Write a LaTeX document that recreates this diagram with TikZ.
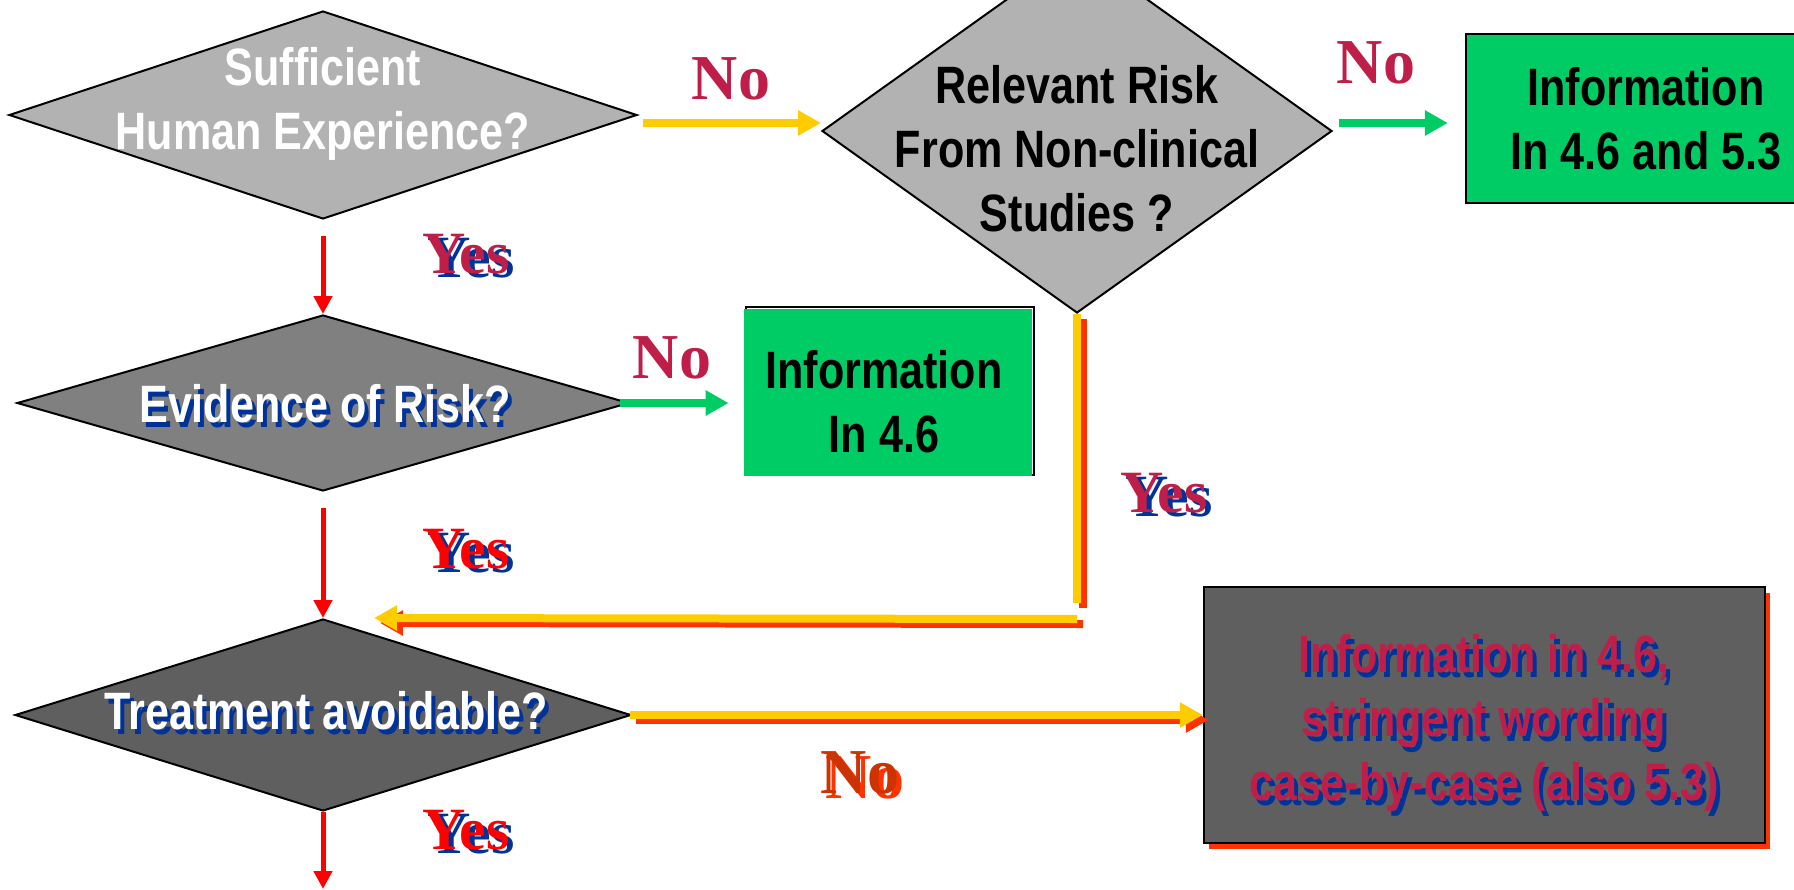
\documentclass[tikz,border=0pt]{standalone}
\usepackage{fontspec}
\usetikzlibrary{shapes.geometric,arrows.meta,calc}
\newfontfamily\sansN[FakeStretch=0.82]{Liberation Sans}
\newfontfamily\serifB{Liberation Serif}
\definecolor{lgray}{RGB}{178,178,178}
\definecolor{mgray}{RGB}{128,128,128}
\definecolor{dgray}{RGB}{95,95,95}
\definecolor{grn}{RGB}{0,204,102}
\definecolor{yel}{RGB}{255,204,0}
\definecolor{ored}{RGB}{255,51,0}
\definecolor{dred}{RGB}{204,51,0}
\definecolor{crim}{RGB}{190,30,72}
\definecolor{blu}{RGB}{0,51,153}
\begin{document}
\begin{tikzpicture}[x=0.5pt,y=-0.5pt,
  dia/.style={diamond, draw=black, line width=1pt, inner sep=0pt, aspect=1},
  qtext/.style={font=\sansN\bfseries\fontsize{26.3pt}{32pt}\selectfont, align=center, inner sep=0pt},
  nolbl/.style={font=\serifB\bfseries\fontsize{32pt}{36pt}\selectfont, inner sep=0pt, anchor=base},
  yeslbl/.style={font=\serifB\bfseries\fontsize{30pt}{36pt}\selectfont, inner sep=0pt, anchor=base},
  redarr/.style={draw=red, line width=2.5pt, -{Triangle[length=9pt,width=9pt]}},
  yelarr/.style={draw=yel, line width=4pt, -{Triangle[length=11.5pt,width=12pt]}},
  grnarr/.style={draw=grn, line width=4pt, -{Triangle[length=11.5pt,width=12pt]}},
  yelline/.style={draw=yel, line width=4pt},
  shadowline/.style={draw=ored, line width=4pt, transform canvas={xshift=3pt,yshift=-2.5pt}},
  shadowarr/.style={shadowline, -{Triangle[length=11.5pt,width=12pt]}}
]
\useasboundingbox (0,0) rectangle (1794,889);
\clip (0,0) rectangle (1794,889);

% diamonds
\node[dia, fill=lgray, minimum width=314pt, minimum height=104pt] (d1) at (323,115) {};
\node[dia, fill=lgray, minimum width=255pt, minimum height=182pt] (d2) at (1077,131) {};
\node[dia, fill=mgray, minimum width=306pt, minimum height=88pt] (d3) at (323,403) {};
\node[dia, fill=dgray, minimum width=308pt, minimum height=96pt] (d4) at (323,715) {};

% boxes
\node[rectangle, draw=black, line width=1.1pt, fill=grn, inner sep=0pt, minimum width=187pt, minimum height=84.5pt] (g1) at (1653,118.5) {};
\node[rectangle, draw=black, line width=1pt, inner sep=0pt, minimum width=144pt, minimum height=84pt] (g2b) at (890,391) {};
\node[rectangle, fill=grn, inner sep=0pt, minimum width=144pt, minimum height=83.5pt] (g2) at (888,392.5) {};
\node[rectangle, draw=black, line width=1.2pt, fill=dgray, inner sep=0pt, minimum width=280.5pt, minimum height=128pt,
  preaction={fill=ored, draw=none, transform canvas={xshift=2.5pt,yshift=-3pt}}] (gb) at (1484.5,715) {};

% connectors
\draw[yelarr] ($(d1.east)+(5,8)$) -- ($(d2.west)+(0,-8)$);
\draw[grnarr] ($(d2.east)+(6,-8)$) -- ($(g1.west)+(-17,4.5)$);
\draw[grnarr] ($(d3.east)+(-10,0)$) -- ($(g2.west)+(-15,10.5)$);
\draw[redarr] ($(d1.south)+(0,16)$) -- (d3.north);
\draw[redarr] ($(d3.south)+(0,16)$) -- (d4.north);
\coordinate (exit) at (323,889);
\draw[redarr] (d4.south) -- (exit);

\coordinate (v1) at (1077,603);
\coordinate (h1) at (1077,619);
\coordinate (h2) at ($(d4.north)+(51,0)$);
\draw[shadowline] (d2.south) -- (v1);
\draw[shadowarr] (h1) -- (h2);
\draw[shadowarr] ($(d4.east)+(-2,0)$) -- (gb.west);
\draw[yelline] (d2.south) -- (v1);
\draw[yelarr] (h1) -- (h2);
\draw[yelarr] ($(d4.east)+(-2,0)$) -- (gb.west);

% texts
\node[qtext, text=white] (t1) at (323,103.5) {Sufficient\\Human Experience?};
\node[qtext, text=black] (t2) at (1077,149) {Relevant Risk\\From Non-clinical\\Studies ?};
\node[qtext, text=black] (tg1) at (1646,119) {Information\\In 4.6 and 5.3};
\node[qtext, text=black] (tg2) at (884,402) {Information\\In 4.6};
\node[qtext, text=blu, anchor=base] (t3s) at (329,427) {Evidence of Risk?};
\node[qtext, text=white, anchor=base] (t3) at (325,422) {Evidence of Risk?};
\node[qtext, text=blu, anchor=base] (t4s) at (330,734) {Treatment avoidable?};
\node[qtext, text=white, anchor=base] (t4) at (326,729) {Treatment avoidable?};
\node[qtext, text=blu] (tgbs) at (1488,728) {Information in 4.6,\\stringent wording\\case-by-case (also 5.3)};
\node[qtext, text=crim] (tgb) at (1484,723) {Information in 4.6,\\stringent wording\\case-by-case (also 5.3)};

% labels
\node[nolbl, text=crim] (no1) at (731,99) {No};
\node[nolbl, text=crim] (no2) at (1376,83) {No};
\node[nolbl, text=crim] (no3) at (672,378) {No};
\node[nolbl, text=ored] (no4s) at (865,798) {No};
\node[nolbl, text=dred] (no4) at (860,793) {No};
\node[yeslbl, text=blu] (yes1s) at (471,277) {Yes};
\node[yeslbl, text=crim] (yes1) at (466,273) {Yes};
\node[yeslbl, text=blu] (yes2s) at (471,572) {Yes};
\node[yeslbl, text=red] (yes2) at (466,568) {Yes};
\node[yeslbl, text=blu] (yes3s) at (471,853) {Yes};
\node[yeslbl, text=red] (yes3) at (466,849) {Yes};
\node[yeslbl, text=blu] (yes4s) at (1169,516) {Yes};
\node[yeslbl, text=crim] (yes4) at (1164,512) {Yes};
\end{tikzpicture}
\end{document}
